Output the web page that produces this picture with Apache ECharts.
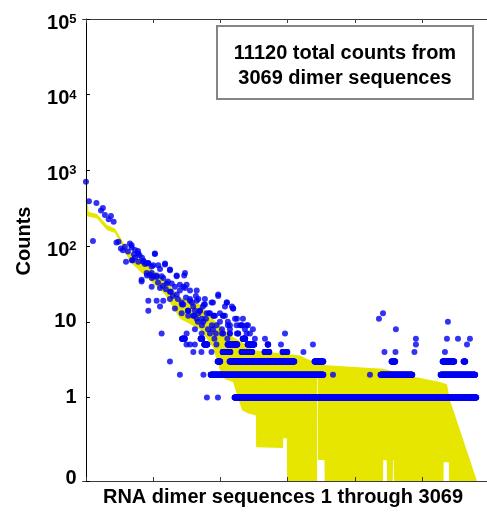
<!DOCTYPE html>
<html><head><meta charset="utf-8">
<script src="https://cdn.jsdelivr.net/npm/echarts@6/dist/echarts.min.js"></script>
<style>html,body{margin:0;padding:0;background:#fff}#c{width:487px;height:512px}</style>
</head><body><div id="c"></div>
<script>
// ---- data (sequence index, counts) ----
const FLOOR = 0.079;               // where "0" sits on the log axis
const yTickValues = [FLOOR, 1, 10, 100, 1000, 10000, 100000];
const xTickValues = [0, 500, 1000, 1500, 2000, 2500];

// yellow band: upper and lower envelopes
const bandUpperIdx = [0,20,82,156,216,290,327,588,699,848,945,1071,1198,1242,1592,1667,1763,2210,2448,2634,2686,2708,2783,2857,2909];
const bandUpperVal = [568,282,265,190,171,103,84,36,21,17,11,6.7,4.9,4.2,3.6,3.1,2.7,2.4,1.87,1.6,1.5,0.93,0.37,0.15,0];
const bandLowerIdx = [0,82,156,216,253,327,588,699,848,945,997,1034,1094,1131,1161,1205,1265,1266,1466,1467,1495,1496,1719,1720,1725,1726,1775,1776,2210,2212,2238,2240,2283,2285,2290,2292,2660,2662,2700,2702,2909];
const bandLowerVal = [250,232,163,149,113,62,23,11,8,4.6,2.3,1.75,1.6,0.99,0.68,0.62,0.58,0.22,0.215,0.29,0.29,0,0,2.0,2.0,0.15,0.15,0,0,0.149,0.149,0,0,0.149,0.149,0,0,0.14,0.14,0,0];

// scattered observed counts (higher counts)
const scatterIdx = [0,22,52,78,112,126,141,169,186,206,227,242,260,275,290,298,312,327,339,342,357,365,387,398,414,417,428,439,452,454,464,464,476,489,491,501,513,526,536,551,563,563,573,588,595,610,625,632,647,662,675,684,699,714,731,744,759,774,789,804,818,833,848,863,878,893,908,923,937,952,967,984,997,1012,1034,1056,1071,1086,1109,1123,1146,1183,1220,
 885,945,1049,1094,1034,870,915,960,1019,1123,1168,1161,1205,1242,1056,863,945,1012,1071,1131,1481,
 2180,2210,2306,2693,
 340,365,389,347,389,426,464,513,501,538,588,625,452,489,526,575,675,737,414,489,551,600,638,699,737,774,824,625,675,526,575,625,712,774,824,551,662,724,811,464,712,761,798,836,
 724,749,984,885,935,1047,1096,774,836,798,761,848,898,947,997,1021,761,824,873,972,1071,1121,1158,1196,749,811,861,923,1021,1071,1133,1196];
const scatterCount = [710,392,117,370,295,320,258,226,250,210,112,114,93,88,98,62,85,108,96,65,78,71,86,76,36,70,64,58,60,41,60,19,42,54,38,40,79,41,33,50,40,7,30,57,27,34,48,25,22,29,41,20,26,17,41,21,14,5,18,12,22,10,14,9,17,11,8,13,9,12,7,22,10,8,12,9,8,16,11,7,9,8,7,
 20,18,18,15,16,16,13,12,12,11,11,9,9,8,10,11,8,7,7,7,7,
 11,13,8,10,
 103,89,80,65,62,62,59,80,56,56,59,49,44,44,39,38,40,44,34,29,28,32,32,31,28,26,26,25,23,19,19,20,18,19,19,16,15,17,14,14,13,14,12,13,
 29,31,23,17,18,18,15,20,20,16,14,14,13,12,13,12,12,11,10,9,9,9,9,9,7,8,7,7,7,7,7,7];

// low-count rows: runs of consecutive sequences with the same count
const rowCounts = [1, 2, 3, 4, 5, 6];
const row1Runs = [[900,900],[982,982],[1106,2904]];
const row2Runs = [[699,699],[874,874],[928,1766],[1838,1838],[2113,2113],[2192,2428],[2639,2896]];
const row3Runs = [[625,625],[980,999],[1069,1550],[1701,1766],[2274,2301],[2654,2740],[2810,2822]];
const row4Runs = [[799,799],[859,859],[934,934],[1017,1074],[1158,1237],[1329,1364],[1463,1498],[1618,1618],[2221,2221],[2303,2303],[2444,2444],[2671,2671]];
const row5Runs = [[748,748],[810,810],[880,903],[971,971],[1054,1126],[1203,1252],[1352,1356],[1451,1451],[1689,1689],[2455,2455],[2835,2835]];
const row6Runs = [[715,735],[853,865],[956,956],[1052,1052],[1166,1185],[1257,1257],[1332,1332],[2455,2455],[2686,2686],[2768,2768],[2857,2857]];

// ---- build ----
const allRuns = [row1Runs, row2Runs, row3Runs, row4Runs, row5Runs, row6Runs];
const dots = scatterIdx.map((x, i) => [x, scatterCount[i]]);
allRuns.forEach((runs, r) => {
  runs.forEach(([a, b]) => { for (let i = a; i <= b; i++) dots.push([i, rowCounts[r]]); });
});
const fl = v => (v <= FLOOR ? FLOOR : v);

const FONT = '"Liberation Sans", Arial, Helvetica, sans-serif';
const chart = echarts.init(document.getElementById('c'), null, {renderer: 'canvas'});
const xCommon = {
  type: 'value', min: -25, max: 2984, z: 5,
  axisLine: {show: true, lineStyle: {color: '#3a3a3a', width: 1}},
  axisTick: {show: true, inside: true, length: 4, customValues: xTickValues, lineStyle: {color: '#3a3a3a'}},
  axisLabel: {show: false},
  splitLine: {show: false}
};
const lbl = {fontWeight: 'bold', fontFamily: FONT, color: '#000'};
chart.setOption({
  animation: false,
  grid: {left: 82.6, top: 19, right: 0, height: 462, containLabel: false},
  xAxis: [
    Object.assign({position: 'bottom'}, xCommon),
    Object.assign({position: 'top'}, xCommon)
  ],
  yAxis: {
    type: 'log', logBase: 10, min: FLOOR, max: 100000, z: 5,
    axisLine: {show: true, lineStyle: {color: '#000', width: 1}},
    axisTick: {show: true, inside: true, length: 4, customValues: yTickValues, lineStyle: {color: '#000'}},
    axisLabel: {
      customValues: yTickValues, margin: 6, color: '#000', fontSize: 20, fontWeight: 'bold', fontFamily: FONT,
      formatter: v => {
        if (v < 0.5) return '{z|0}';
        const e = Math.round(Math.log10(v));
        if (e === 0) return '1';
        if (e === 1) return '10';
        return '{b|10}{s|' + e + '}';
      },
      rich: {
        b: Object.assign({fontSize: 20, padding: [8, 0, 0, 0]}, lbl),
        s: Object.assign({fontSize: 13, padding: [8, 0, 0, 0], verticalAlign: 'top'}, lbl),
        z: Object.assign({fontSize: 20, padding: [0, 0, 6, 0]}, lbl)
      }
    },
    splitLine: {show: false}, minorTick: {show: false}
  },
  series: [
    {
      type: 'custom', silent: true, clip: true, z: 1,
      data: [[0, 1]],
      renderItem: (params, api) => {
        const pts = [];
        for (let i = 0; i < bandUpperIdx.length; i++) pts.push(api.coord([bandUpperIdx[i], fl(bandUpperVal[i])]));
        for (let i = bandLowerIdx.length - 1; i >= 0; i--) pts.push(api.coord([bandLowerIdx[i], fl(bandLowerVal[i])]));
        return {type: 'polygon', shape: {points: pts}, style: {fill: '#e6e600', stroke: null}};
      }
    },
    {
      type: 'scatter', silent: true, z: 2, symbol: 'circle', symbolSize: 6,
      itemStyle: {color: '#0000f2'},
      data: dots
    }
  ],
  graphic: [
    {type: 'text', x: 24, y: 241, rotation: Math.PI / 2,
     style: {text: 'Counts', font: 'bold 20px ' + FONT, fill: '#000', textAlign: 'center', textVerticalAlign: 'middle'}},
    {type: 'text', x: 283, y: 497,
     style: {text: 'RNA dimer sequences 1 through 3069', font: 'bold 20px ' + FONT, fill: '#000', textAlign: 'center', textVerticalAlign: 'middle'}},
    {type: 'rect', shape: {x: 217, y: 26, width: 256, height: 73}, style: {fill: '#fff', stroke: '#858585', lineWidth: 2}, z: 10},
    {type: 'text', x: 345, y: 53, z: 11,
     style: {text: '11120 total counts from', font: 'bold 20px ' + FONT, fill: '#000', textAlign: 'center', textVerticalAlign: 'middle'}},
    {type: 'text', x: 345, y: 78, z: 11,
     style: {text: '3069 dimer sequences', font: 'bold 20px ' + FONT, fill: '#000', textAlign: 'center', textVerticalAlign: 'middle'}}
  ]
});
</script></body></html>
